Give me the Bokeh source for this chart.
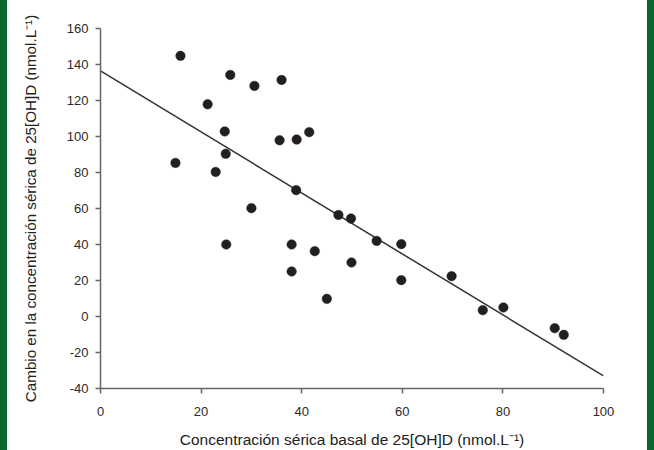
from bokeh.plotting import figure
from bokeh.models import Range1d, FixedTicker
from bokeh.embed import file_html
from bokeh.resources import INLINE

# Data
basal = [15.9, 25.8, 30.6, 36.0, 21.3, 24.7, 35.6, 39.0, 41.5, 14.9,
         24.9, 22.9, 38.9, 30.0, 47.3, 49.8, 54.9, 25.0, 38.0, 42.6,
         49.9, 38.0, 45.0, 59.8, 59.8, 69.8, 76.0, 80.1, 90.3, 92.1]
cambio = [144.8, 134.2, 128.1, 131.4, 117.9, 102.8, 97.9, 98.3, 102.4, 85.3,
          90.4, 80.3, 70.2, 60.2, 56.4, 54.4, 42.0, 40.0, 40.0, 36.3,
          30.0, 25.0, 9.8, 40.2, 20.2, 22.4, 3.5, 5.0, -6.5, -10.2]
fit_x = [0, 100]
fit_y = [136.4, -33.0]
x_ticks = [0, 20, 40, 60, 80, 100]
y_ticks = [-40, -20, 0, 20, 40, 60, 80, 100, 120, 140, 160]
y_tick_labels = {t: str(t) for t in y_ticks}

p = figure(width=654, height=450, output_backend="svg", toolbar_location=None,
           x_range=Range1d(0, 100), y_range=Range1d(-40, 160),
           min_border_left=100, min_border_right=51, min_border_top=28, min_border_bottom=59)
p.outline_line_color = None
p.grid.visible = False
p.background_fill_color = "white"
p.border_fill_color = None
p.styles = {"background": "linear-gradient(to right, #0b662e 0px, #0b662e 7px, white 7px, white 647px, #0b662e 647px)"}

p.line(fit_x, fit_y, line_color="#333333", line_width=1.5)
p.scatter(basal, cambio, size=9.5, fill_color="#231f20", line_color="#231f20", line_width=0.5)

for ax in (p.xaxis[0], p.yaxis[0]):
    ax.axis_line_color = "#666666"
    ax.axis_line_width = 1.5
    ax.major_tick_line_color = "#666666"
    ax.major_tick_line_width = 1.5
    ax.major_tick_out = 5
    ax.major_tick_in = 0
    ax.minor_tick_line_color = None
    ax.major_label_text_font = "Liberation Sans"
    ax.major_label_text_font_size = "13px"
    ax.major_label_text_color = "#2a2a2a"
    ax.axis_label_text_font = "Liberation Sans"
    ax.axis_label_text_font_style = "normal"
    ax.axis_label_text_color = "#222222"

p.xaxis.ticker = FixedTicker(ticks=x_ticks)
p.yaxis.ticker = FixedTicker(ticks=y_ticks)
p.yaxis.major_label_overrides = y_tick_labels
p.xaxis.major_label_standoff = 13
p.yaxis.major_label_standoff = 7
p.xaxis.axis_label = "Concentración sérica basal de 25[OH]D (nmol.L⁻¹)"
p.yaxis.axis_label = "Cambio en la concentración sérica de 25[OH]D (nmol.L⁻¹)"
p.xaxis.axis_label_text_font_size = "15.5px"
p.yaxis.axis_label_text_font_size = "15.2px"
p.xaxis.axis_label_standoff = 12
p.yaxis.axis_label_standoff = 25

open("out.html", "w").write(file_html(p, INLINE))
